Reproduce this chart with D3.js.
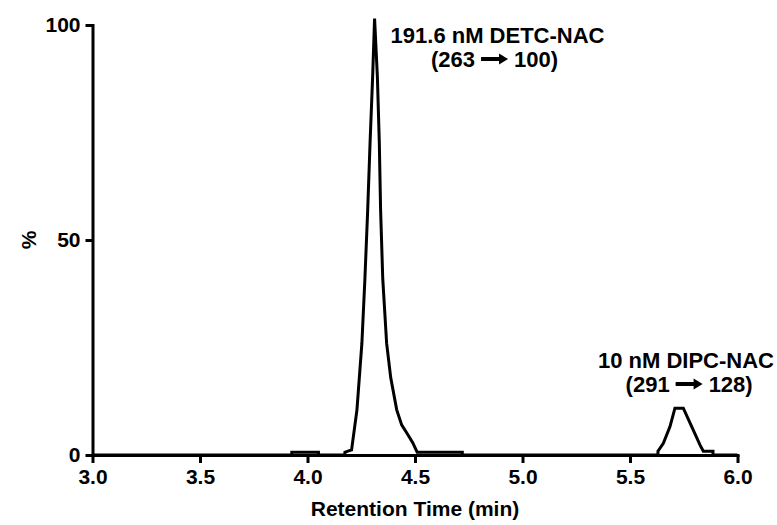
<!DOCTYPE html>
<html>
<head>
<meta charset="utf-8">
<script src="https://cdn.jsdelivr.net/npm/d3@7"></script>
<style>
  body { margin: 0; background: #fff; }
  text { font-family: "Liberation Sans", Arial, sans-serif; font-weight: bold; fill: #000; }
</style>
</head>
<body>
<div id="chart"></div>
<script>
// retention time (min) and relative abundance (%)
const times = [3.00, 3.927, 3.927, 4.051, 4.051, 4.174, 4.174, 4.205, 4.230, 4.253, 4.267, 4.280, 4.291, 4.303, 4.312,
    4.325, 4.334, 4.340, 4.350, 4.368, 4.387, 4.415, 4.438, 4.467, 4.490, 4.510, 4.720, 4.720,
    5.630, 5.630, 5.655, 5.686, 5.709, 5.748, 5.787, 5.826, 5.841, 5.886, 5.886, 6.00];
const percent = [0, 0, 0.65, 0.65, 0, 0, 0.65, 1.2, 10.5, 26, 41, 57, 72.6, 88, 101.5,
    88, 72.6, 57, 41, 26, 18, 10.5, 7, 4.7, 2.8, 0.65, 0.65, 0,
    0, 0.9, 2.7, 6.6, 10.9, 10.9, 6.6, 2.3, 0.9, 0.9, 0, 0];

const xTicks = [3.0, 3.5, 4.0, 4.5, 5.0, 5.5, 6.0];
const yTicks = [0, 50, 100];

// peak annotations: compound line, transition (precursor -> product), anchor [time, percent]
const peakNames = ["191.6 nM DETC-NAC", "10 nM DIPC-NAC"];
const peakTransitions = [["263", "100"], ["291", "128"]];
const peakLabelAt = [[4.87, 100], [5.775, 24.4]];

var margin = { top: 25, right: 39.5, bottom: 70, left: 92.5 },
    width = 777 - margin.left - margin.right,
    height = 525 - margin.top - margin.bottom;

var svg = d3.select("#chart")
    .append("svg")
    .attr("width", width + margin.left + margin.right)
    .attr("height", height + margin.top + margin.bottom)
    .append("g")
    .attr("transform", "translate(" + margin.left + "," + margin.top + ")");

let x = d3.scaleLinear().domain([3, 6]).range([0, width]);
let y = d3.scaleLinear().domain([0, 100]).range([height, 0]);

// axes
let xAxis = svg.append("g")
    .attr("transform", "translate(0," + height + ")")
    .call(d3.axisBottom(x).tickValues(xTicks).tickFormat(d3.format(".1f"))
        .tickSize(8).tickSizeOuter(0).tickPadding(6));
let yAxis = svg.append("g")
    .call(d3.axisLeft(y).tickValues(yTicks).tickSize(7).tickSizeOuter(0).tickPadding(5));

[xAxis, yAxis].forEach(a => {
    a.select(".domain").attr("stroke", "#000").attr("stroke-width", 3).attr("stroke-linecap", "square");
    a.selectAll(".tick line").attr("stroke", "#000").attr("stroke-width", 3);
    a.selectAll(".tick text").style("font-size", "21px");
});

// chromatogram trace
let line = d3.line()
    .x((d, i) => x(times[i]))
    .y(d => y(d));
svg.append("path")
    .datum(percent)
    .attr("fill", "none")
    .attr("stroke", "#000")
    .attr("stroke-width", 3)
    .attr("stroke-linejoin", "miter")
    .attr("d", line);

// annotations
let arrowHalf = 13.5, gap = 6;
let rightLimit = width + margin.right - 3;
peakNames.forEach((name, i) => {
    let ax = x(peakLabelAt[i][0]), ay = y(peakLabelAt[i][1]);
    let t = svg.append("text")
        .attr("x", ax + 3).attr("y", ay + 18)
        .attr("text-anchor", "middle")
        .style("font-size", "22px")
        .text(name);
    // keep the compound name inside the picture
    let half = t.node().getComputedTextLength() / 2;
    if (ax + 3 + half > rightLimit) t.attr("x", rightLimit - half);
    let by = ay + 41.5;
    svg.append("text")
        .attr("x", ax - arrowHalf - gap).attr("y", by)
        .attr("text-anchor", "end")
        .style("font-size", "22px")
        .text("(" + peakTransitions[i][0]);
    svg.append("text")
        .attr("x", ax + arrowHalf + gap).attr("y", by)
        .attr("text-anchor", "start")
        .style("font-size", "22px")
        .text(peakTransitions[i][1] + ")");
    // arrow
    let my = by - 7.5;
    svg.append("path")
        .attr("d", `M${ax - arrowHalf},${my - 2}H${ax + arrowHalf - 9}V${my - 5.5}L${ax + arrowHalf},${my}` +
            `L${ax + arrowHalf - 9},${my + 5.5}V${my + 2}H${ax - arrowHalf}Z`)
        .attr("fill", "#000");
});

// axis titles
svg.append("text")
    .attr("x", width / 2)
    .attr("y", height + 61)
    .attr("text-anchor", "middle")
    .style("font-size", "21px")
    .text("Retention Time (min)");
svg.append("text")
    .attr("transform", "translate(" + (-57) + "," + (height / 2) + ") rotate(-90)")
    .attr("text-anchor", "middle")
    .style("font-size", "21px")
    .text("%");
</script>
</body>
</html>
